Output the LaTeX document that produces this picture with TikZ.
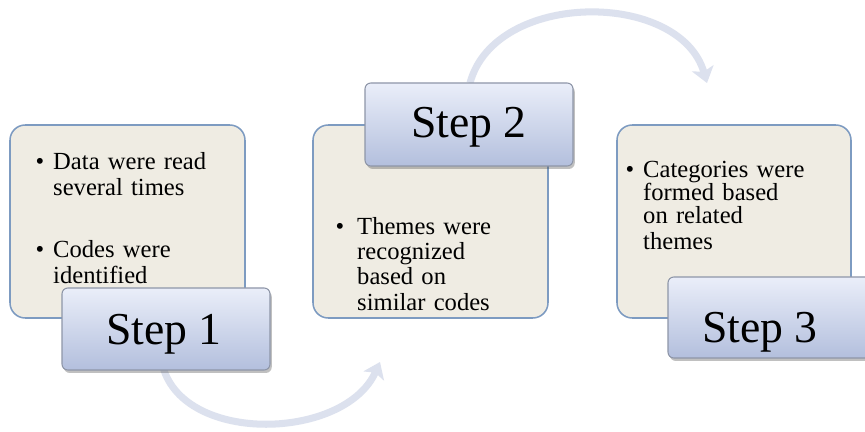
\documentclass[tikz,border=0pt]{standalone}
\usepackage{fontspec}
\setmainfont{Liberation Serif}
\usetikzlibrary{arrows.meta,shadows,fit}
\definecolor{cream}{HTML}{EFECE3}
\definecolor{creamborder}{HTML}{7D9BC1}
\definecolor{steptop}{HTML}{EAEEF9}
\definecolor{stepbot}{HTML}{B3BFDD}
\definecolor{stepborder}{HTML}{8E96A8}
\definecolor{arrowcol}{HTML}{DCE1EE}
\tikzset{
  textbox/.style={draw=creamborder, fill=cream, line width=1.3pt, rounded corners=13pt, inner sep=0pt},
  stepbox/.style={draw=stepborder, line width=0.9pt, rounded corners=5pt, inner sep=0pt,
    top color=steptop, bottom color=stepbot,
    drop shadow={shadow xshift=1.5pt, shadow yshift=-2.5pt, opacity=0.35, fill=black!70}},
  flow/.style={line width=6pt, draw=arrowcol, -{Stealth[length=13pt,width=19pt,inset=3pt]}},
  body/.style={font=\fontsize{21}{22}\selectfont, anchor=base west, align=left, inner sep=0pt},
  bulletmark/.style={font=\fontsize{21}{22}\selectfont, anchor=base, inner sep=0pt},
  steplabel/.style={font=\fontsize{39}{40}\selectfont, anchor=base, inner sep=0pt}
}
\begin{document}
\begin{tikzpicture}[x=0.03cm, y=-0.03cm]
\clip (0,0) rectangle (865,432);
\fill[white] (0,0) rectangle (865,432);
% content boxes
\node[textbox, fit={(10,125) (245,318)}] (b1) {};
\node[textbox, fit={(313,125) (548,318)}] (b2) {};
\node[textbox, fit={(617,125) (851,318)}] (b3) {};
% texts
\node[bulletmark] (d1) at (40,170) {•};
\node[body, text width=185pt] (t1) at (53,170) {\baselineskip=22.2pt Data were read\\several times};
\node[bulletmark] (d2) at (40,258) {•};
\node[body, text width=185pt] (t2) at (53,258) {\baselineskip=22.2pt Codes were\\identified};
\node[bulletmark] (d3) at (340,235) {•};
\node[body, text width=185pt] (t3) at (357,235) {\baselineskip=21.3pt Themes were\\recognized\\based on\\similar codes};
\node[bulletmark] (d4) at (630,178) {•};
\node[body, text width=185pt] (t4) at (643,178) {\baselineskip=19.6pt Categories were\\formed based\\on related\\themes};
% arrows
\coordinate (a1s) at (163,367);
\coordinate (a1e) at (380,362);
\coordinate (a2s) at (470,83);
\coordinate (a2e) at (707,83);
\draw[flow] (a1s) .. controls (185,445) and (345,440) .. (a1e);
\draw[flow] (a2s) .. controls (495,-10) and (680,-10) .. (a2e);
% step boxes
\node[stepbox, fit={(62,288) (270,370)}] (s1) {};
\node[stepbox, fit={(365,83) (573,166)}] (s2) {};
\node[stepbox, fit={(668,277) (878,358)}] (s3) {};
\node[steplabel] (l1) at (164,345) {Step 1};
\node[steplabel] (l2) at (469,138) {Step 2};
\node[steplabel] (l3) at (760,343) {Step 3};
\end{tikzpicture}
\end{document}
